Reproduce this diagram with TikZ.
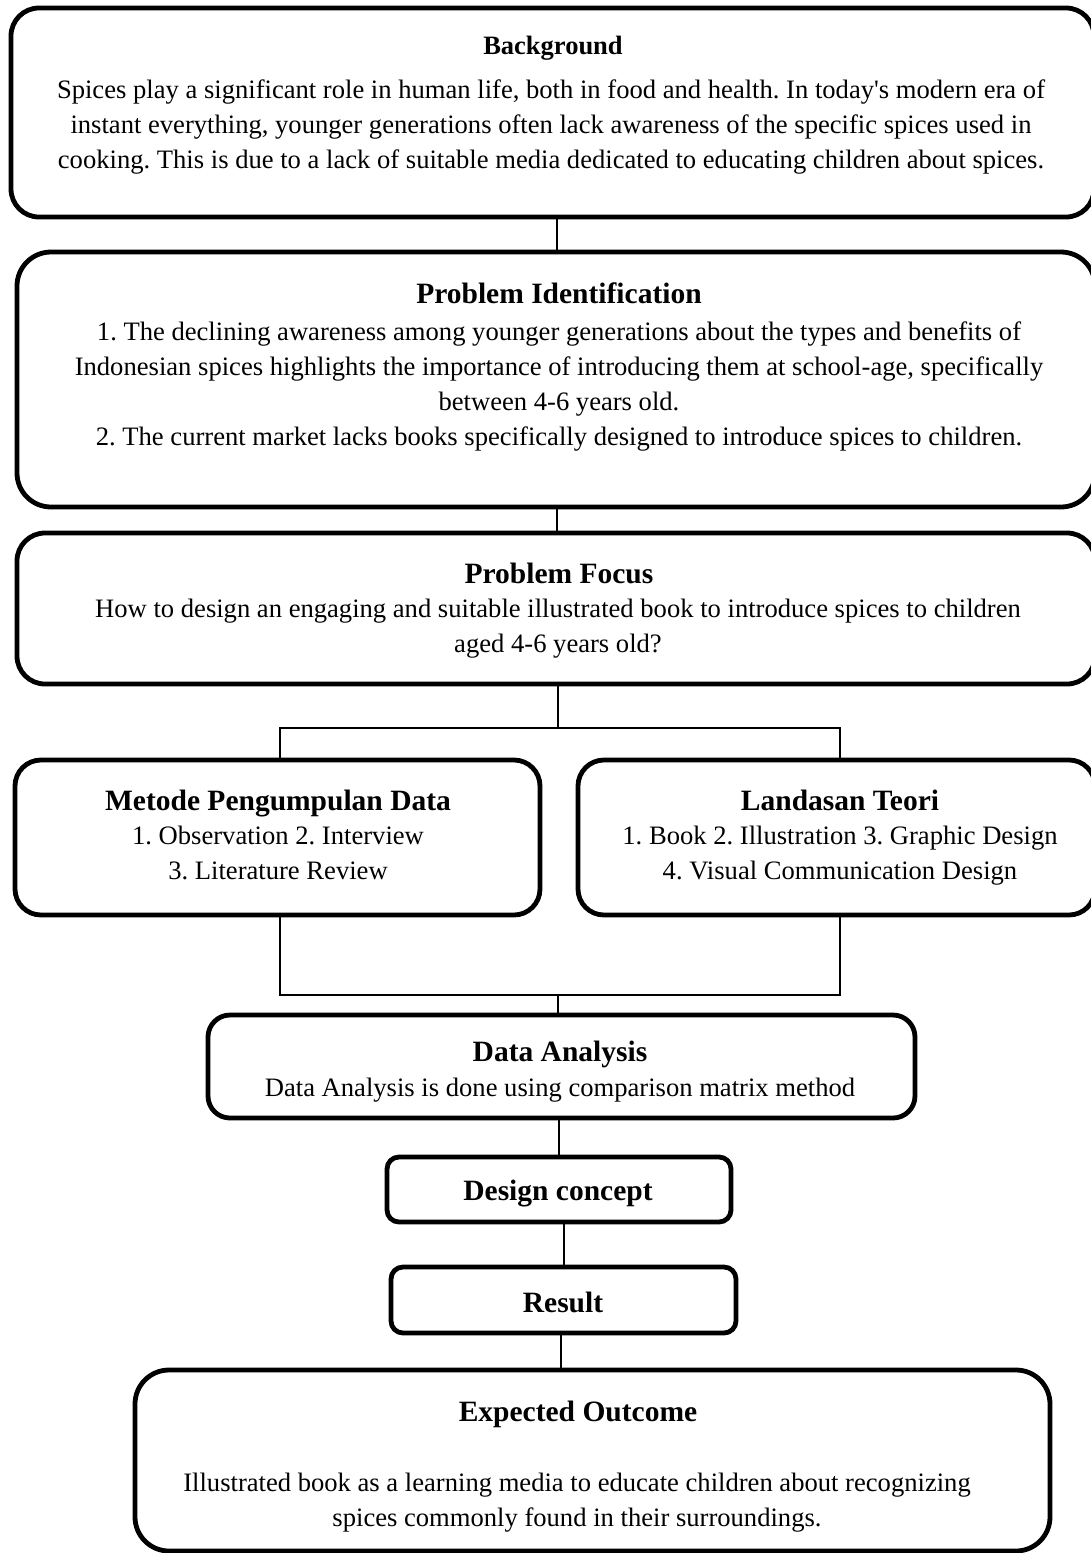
\documentclass[tikz,border=0pt]{standalone}
\usepackage{fontspec}
\setmainfont{Liberation Serif}[Ligatures=TeXOff]
\begin{document}
\frenchspacing
\begin{tikzpicture}[x=1pt,y=-1pt,
  box/.style={draw=black,line width=4.8pt,fill=white,rounded corners=#1,inner sep=0pt},
  box/.default=28pt,
  conn/.style={draw=black,line width=2pt},
  txt/.style={inner sep=0pt,align=center,execute at begin node=\strut,execute at end node=\strut},
  body/.style={txt,font=\fontsize{26.6}{35}\selectfont},
  ttl/.style={txt,font=\fontsize{29.5}{34}\selectfont\bfseries},
  sttl/.style={txt,font=\fontsize{26.5}{30}\selectfont\bfseries}]
\useasboundingbox (0,0) rectangle (1091,1553);
% boxes
\node[box,minimum width=1083pt,minimum height=209pt] (bg) at (552.5,112.5) {};
\node[box=34pt,minimum width=1078pt,minimum height=255pt] (pi) at (556,379.5) {};
\node[box,minimum width=1078pt,minimum height=151pt] (pf) at (556,608.5) {};
\node[box=26pt,minimum width=525pt,minimum height=155pt] (mp) at (277.5,837.5) {};
\node[box=26pt,minimum width=517pt,minimum height=155pt] (lt) at (836.5,837.5) {};
\node[box=22pt,minimum width=707pt,minimum height=103pt] (da) at (561.5,1066.5) {};
\node[box=12pt,minimum width=344pt,minimum height=65pt] (dc) at (559,1189.5) {};
\node[box=12pt,minimum width=345pt,minimum height=66pt] (rs) at (563.5,1300) {};
\node[box=34pt,minimum width=915pt,minimum height=181pt] (eo) at (592.5,1460.5) {};
% junction coordinates
\coordinate (j1) at (558,728);
\coordinate (j1l) at (280,728);
\coordinate (j1r) at (840,728);
\coordinate (j2) at (558,995);
\coordinate (j2l) at (280,995);
\coordinate (j2r) at (840,995);
% connectors
\draw[conn] (bg.south -| 557,0) -- (pi.north -| 557,0);
\draw[conn] (pi.south -| 557,0) -- (pf.north -| 557,0);
\draw[conn] (pf.south -| j1) -- (j1);
\draw[conn] (mp.north -| j1l) -- (j1l) -- (j1r) -- (lt.north -| j1r);
\draw[conn] (mp.south -| j2l) -- (j2l) -- (j2r) -- (lt.south -| j2r);
\draw[conn] (j2) -- (da.north -| j2);
\draw[conn] (da.south -| 559,0) -- (dc.north -| 559,0);
\draw[conn] (dc.south -| 564,0) -- (rs.north -| 564,0);
\draw[conn] (rs.south -| 561,0) -- (eo.north -| 561,0);
% texts
\node[sttl] (bgt) at (553,48) {Background};
\node[body] (bgb) at (551,129) {Spices play a significant role in human life, both in food and health. In today's modern era of\\
instant everything, younger generations often lack awareness of the specific spices used in\\
cooking. This is due to a lack of suitable media dedicated to educating children about spices.};
\node[ttl] (pit) at (559,297) {Problem Identification};
\node[body] (pib) at (559,389) {1. The declining awareness among younger generations about the types and benefits of\\
Indonesian spices highlights the importance of introducing them at school-age, specifically\\
between 4-6 years old.\\
2. The current market lacks books specifically designed to introduce spices to children.};
\node[ttl] (pft) at (559,577) {Problem Focus};
\node[body] (pfb) at (558,631) {How to design an engaging and suitable illustrated book to introduce spices to children\\
aged 4-6 years old?};
\node[ttl] (mpt) at (278,804) {Metode Pengumpulan Data};
\node[body] (mpb) at (278,858) {1. Observation 2. Interview\\3. Literature Review};
\node[ttl] (ltt) at (840,804) {Landasan Teori};
\node[body] (ltb) at (840,858) {1. Book 2. Illustration 3. Graphic Design\\4. Visual Communication Design};
\node[ttl] (dat) at (560,1055) {Data Analysis};
\node[body] (dab) at (560,1089) {Data Analysis is done using comparison matrix method};
\node[ttl] (dct) at (558,1194) {Design concept};
\node[ttl] (rst) at (563,1306) {Result};
\node[ttl] (eot) at (578,1415) {Expected Outcome};
\node[body] (eob) at (577,1505) {Illustrated book as a learning media to educate children about recognizing\\spices commonly found in their surroundings.};
\end{tikzpicture}
\end{document}
